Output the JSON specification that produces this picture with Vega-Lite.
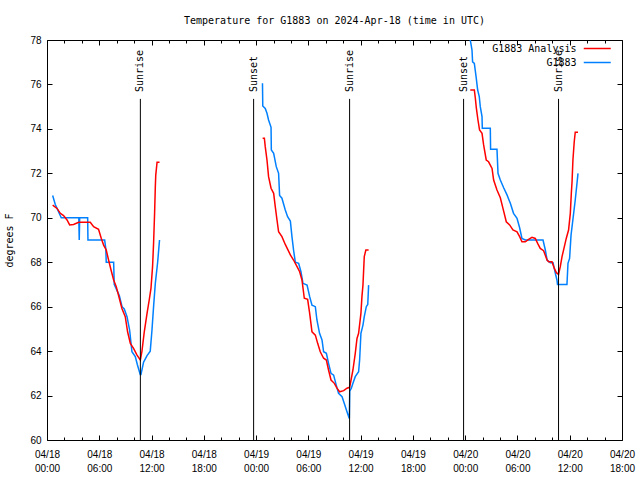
{
"$schema": "https://vega.github.io/schema/vega-lite/v6.json",
"width": 575, "height": 400,
"autosize": {"type": "none"},
"padding": {"left": 47, "top": 40, "right": 18, "bottom": 40},
"background": "white",
"title": {"text": "Temperature for G1883 on 2024-Apr-18 (time in UTC)", "font": "DejaVu Sans Mono", "fontSize": 10, "fontWeight": "normal", "color": "black", "anchor": "middle", "offset": 9},
"config": {"view": {"stroke": "black", "strokeWidth": 1}, "axis": {"grid": false, "domainColor": "black", "tickColor": "black", "labelColor": "black", "titleColor": "black"}},
"datasets": {
"events": [
{"t": "2024-04-18T10:43Z", "label": "Sunrise"},
{"t": "2024-04-18T23:43Z", "label": "Sunset"},
{"t": "2024-04-19T10:44Z", "label": "Sunrise"},
{"t": "2024-04-19T23:49Z", "label": "Sunset"},
{"t": "2024-04-20T10:43Z", "label": "Sunrise"}
],
"temps": [
{"t":"2024-04-18T00:39Z","v":71.0,"s":"G1883","g":"b1"},
{"t":"2024-04-18T00:57Z","v":70.6,"s":"G1883","g":"b1"},
{"t":"2024-04-18T01:18Z","v":70.3,"s":"G1883","g":"b1"},
{"t":"2024-04-18T01:38Z","v":70.0,"s":"G1883","g":"b1"},
{"t":"2024-04-18T03:39Z","v":70.0,"s":"G1883","g":"b1"},
{"t":"2024-04-18T03:42Z","v":69.0,"s":"G1883","g":"b1"},
{"t":"2024-04-18T03:45Z","v":70.0,"s":"G1883","g":"b1"},
{"t":"2024-04-18T04:40Z","v":70.0,"s":"G1883","g":"b1"},
{"t":"2024-04-18T04:42Z","v":69.0,"s":"G1883","g":"b1"},
{"t":"2024-04-18T06:37Z","v":69.0,"s":"G1883","g":"b1"},
{"t":"2024-04-18T06:45Z","v":68.6,"s":"G1883","g":"b1"},
{"t":"2024-04-18T06:48Z","v":68.0,"s":"G1883","g":"b1"},
{"t":"2024-04-18T07:39Z","v":68.0,"s":"G1883","g":"b1"},
{"t":"2024-04-18T07:43Z","v":67.0,"s":"G1883","g":"b1"},
{"t":"2024-04-18T08:04Z","v":66.7,"s":"G1883","g":"b1"},
{"t":"2024-04-18T08:18Z","v":66.5,"s":"G1883","g":"b1"},
{"t":"2024-04-18T08:37Z","v":66.0,"s":"G1883","g":"b1"},
{"t":"2024-04-18T08:52Z","v":65.9,"s":"G1883","g":"b1"},
{"t":"2024-04-18T09:11Z","v":65.55,"s":"G1883","g":"b1"},
{"t":"2024-04-18T09:29Z","v":64.95,"s":"G1883","g":"b1"},
{"t":"2024-04-18T09:45Z","v":63.97,"s":"G1883","g":"b1"},
{"t":"2024-04-18T10:08Z","v":63.75,"s":"G1883","g":"b1"},
{"t":"2024-04-18T10:22Z","v":63.4,"s":"G1883","g":"b1"},
{"t":"2024-04-18T10:42Z","v":62.95,"s":"G1883","g":"b1"},
{"t":"2024-04-18T10:47Z","v":62.95,"s":"G1883","g":"b1"},
{"t":"2024-04-18T11:05Z","v":63.5,"s":"G1883","g":"b1"},
{"t":"2024-04-18T11:29Z","v":63.8,"s":"G1883","g":"b1"},
{"t":"2024-04-18T11:51Z","v":64.0,"s":"G1883","g":"b1"},
{"t":"2024-04-18T12:03Z","v":64.95,"s":"G1883","g":"b1"},
{"t":"2024-04-18T12:14Z","v":66.0,"s":"G1883","g":"b1"},
{"t":"2024-04-18T12:26Z","v":67.05,"s":"G1883","g":"b1"},
{"t":"2024-04-18T12:42Z","v":68.0,"s":"G1883","g":"b1"},
{"t":"2024-04-18T12:55Z","v":69.0,"s":"G1883","g":"b1"},
{"t":"2024-04-18T00:39Z","v":70.57,"s":"G1883 Analysis","g":"r1"},
{"t":"2024-04-18T01:09Z","v":70.42,"s":"G1883 Analysis","g":"r1"},
{"t":"2024-04-18T01:32Z","v":70.2,"s":"G1883 Analysis","g":"r1"},
{"t":"2024-04-18T01:54Z","v":70.1,"s":"G1883 Analysis","g":"r1"},
{"t":"2024-04-18T02:18Z","v":69.9,"s":"G1883 Analysis","g":"r1"},
{"t":"2024-04-18T02:36Z","v":69.68,"s":"G1883 Analysis","g":"r1"},
{"t":"2024-04-18T03:03Z","v":69.7,"s":"G1883 Analysis","g":"r1"},
{"t":"2024-04-18T03:38Z","v":69.8,"s":"G1883 Analysis","g":"r1"},
{"t":"2024-04-18T04:58Z","v":69.8,"s":"G1883 Analysis","g":"r1"},
{"t":"2024-04-18T05:21Z","v":69.6,"s":"G1883 Analysis","g":"r1"},
{"t":"2024-04-18T05:55Z","v":69.48,"s":"G1883 Analysis","g":"r1"},
{"t":"2024-04-18T06:14Z","v":69.07,"s":"G1883 Analysis","g":"r1"},
{"t":"2024-04-18T06:30Z","v":68.77,"s":"G1883 Analysis","g":"r1"},
{"t":"2024-04-18T06:48Z","v":68.55,"s":"G1883 Analysis","g":"r1"},
{"t":"2024-04-18T07:04Z","v":68.1,"s":"G1883 Analysis","g":"r1"},
{"t":"2024-04-18T07:21Z","v":67.65,"s":"G1883 Analysis","g":"r1"},
{"t":"2024-04-18T07:39Z","v":67.2,"s":"G1883 Analysis","g":"r1"},
{"t":"2024-04-18T07:57Z","v":66.9,"s":"G1883 Analysis","g":"r1"},
{"t":"2024-04-18T08:13Z","v":66.5,"s":"G1883 Analysis","g":"r1"},
{"t":"2024-04-18T08:36Z","v":65.92,"s":"G1883 Analysis","g":"r1"},
{"t":"2024-04-18T08:59Z","v":65.55,"s":"G1883 Analysis","g":"r1"},
{"t":"2024-04-18T09:15Z","v":64.87,"s":"G1883 Analysis","g":"r1"},
{"t":"2024-04-18T09:34Z","v":64.35,"s":"G1883 Analysis","g":"r1"},
{"t":"2024-04-18T09:56Z","v":64.12,"s":"G1883 Analysis","g":"r1"},
{"t":"2024-04-18T10:20Z","v":63.82,"s":"G1883 Analysis","g":"r1"},
{"t":"2024-04-18T10:43Z","v":63.6,"s":"G1883 Analysis","g":"r1"},
{"t":"2024-04-18T10:54Z","v":64.0,"s":"G1883 Analysis","g":"r1"},
{"t":"2024-04-18T11:10Z","v":64.87,"s":"G1883 Analysis","g":"r1"},
{"t":"2024-04-18T11:29Z","v":65.7,"s":"G1883 Analysis","g":"r1"},
{"t":"2024-04-18T11:44Z","v":66.3,"s":"G1883 Analysis","g":"r1"},
{"t":"2024-04-18T11:56Z","v":66.82,"s":"G1883 Analysis","g":"r1"},
{"t":"2024-04-18T12:07Z","v":67.8,"s":"G1883 Analysis","g":"r1"},
{"t":"2024-04-18T12:14Z","v":68.85,"s":"G1883 Analysis","g":"r1"},
{"t":"2024-04-18T12:21Z","v":70.2,"s":"G1883 Analysis","g":"r1"},
{"t":"2024-04-18T12:26Z","v":71.4,"s":"G1883 Analysis","g":"r1"},
{"t":"2024-04-18T12:29Z","v":71.92,"s":"G1883 Analysis","g":"r1"},
{"t":"2024-04-18T12:38Z","v":72.5,"s":"G1883 Analysis","g":"r1"},
{"t":"2024-04-18T12:55Z","v":72.5,"s":"G1883 Analysis","g":"r1"},
{"t":"2024-04-19T00:44Z","v":76.05,"s":"G1883","g":"b2"},
{"t":"2024-04-19T00:46Z","v":75.03,"s":"G1883","g":"b2"},
{"t":"2024-04-19T01:03Z","v":74.92,"s":"G1883","g":"b2"},
{"t":"2024-04-19T01:15Z","v":74.7,"s":"G1883","g":"b2"},
{"t":"2024-04-19T01:26Z","v":74.4,"s":"G1883","g":"b2"},
{"t":"2024-04-19T01:43Z","v":74.07,"s":"G1883","g":"b2"},
{"t":"2024-04-19T01:45Z","v":73.05,"s":"G1883","g":"b2"},
{"t":"2024-04-19T02:01Z","v":72.9,"s":"G1883","g":"b2"},
{"t":"2024-04-19T02:19Z","v":72.3,"s":"G1883","g":"b2"},
{"t":"2024-04-19T02:35Z","v":72.0,"s":"G1883","g":"b2"},
{"t":"2024-04-19T02:42Z","v":71.0,"s":"G1883","g":"b2"},
{"t":"2024-04-19T02:58Z","v":70.88,"s":"G1883","g":"b2"},
{"t":"2024-04-19T03:21Z","v":70.35,"s":"G1883","g":"b2"},
{"t":"2024-04-19T03:37Z","v":70.05,"s":"G1883","g":"b2"},
{"t":"2024-04-19T03:56Z","v":69.85,"s":"G1883","g":"b2"},
{"t":"2024-04-19T04:07Z","v":69.15,"s":"G1883","g":"b2"},
{"t":"2024-04-19T04:18Z","v":68.55,"s":"G1883","g":"b2"},
{"t":"2024-04-19T04:30Z","v":68.0,"s":"G1883","g":"b2"},
{"t":"2024-04-19T04:53Z","v":67.95,"s":"G1883","g":"b2"},
{"t":"2024-04-19T05:09Z","v":67.57,"s":"G1883","g":"b2"},
{"t":"2024-04-19T05:23Z","v":67.05,"s":"G1883","g":"b2"},
{"t":"2024-04-19T05:51Z","v":66.97,"s":"G1883","g":"b2"},
{"t":"2024-04-19T06:09Z","v":66.45,"s":"G1883","g":"b2"},
{"t":"2024-04-19T06:25Z","v":66.07,"s":"G1883","g":"b2"},
{"t":"2024-04-19T06:48Z","v":66.0,"s":"G1883","g":"b2"},
{"t":"2024-04-19T06:59Z","v":65.4,"s":"G1883","g":"b2"},
{"t":"2024-04-19T07:17Z","v":64.8,"s":"G1883","g":"b2"},
{"t":"2024-04-19T07:34Z","v":64.5,"s":"G1883","g":"b2"},
{"t":"2024-04-19T07:45Z","v":63.97,"s":"G1883","g":"b2"},
{"t":"2024-04-19T08:04Z","v":63.9,"s":"G1883","g":"b2"},
{"t":"2024-04-19T08:19Z","v":63.45,"s":"G1883","g":"b2"},
{"t":"2024-04-19T08:36Z","v":63.0,"s":"G1883","g":"b2"},
{"t":"2024-04-19T08:54Z","v":62.92,"s":"G1883","g":"b2"},
{"t":"2024-04-19T09:12Z","v":62.47,"s":"G1883","g":"b2"},
{"t":"2024-04-19T09:28Z","v":62.1,"s":"G1883","g":"b2"},
{"t":"2024-04-19T09:52Z","v":61.95,"s":"G1883","g":"b2"},
{"t":"2024-04-19T10:07Z","v":61.65,"s":"G1883","g":"b2"},
{"t":"2024-04-19T10:26Z","v":61.27,"s":"G1883","g":"b2"},
{"t":"2024-04-19T10:42Z","v":60.97,"s":"G1883","g":"b2"},
{"t":"2024-04-19T10:45Z","v":62.2,"s":"G1883","g":"b2"},
{"t":"2024-04-19T10:56Z","v":62.33,"s":"G1883","g":"b2"},
{"t":"2024-04-19T11:07Z","v":62.55,"s":"G1883","g":"b2"},
{"t":"2024-04-19T11:23Z","v":62.85,"s":"G1883","g":"b2"},
{"t":"2024-04-19T11:46Z","v":63.07,"s":"G1883","g":"b2"},
{"t":"2024-04-19T11:53Z","v":63.6,"s":"G1883","g":"b2"},
{"t":"2024-04-19T12:02Z","v":64.8,"s":"G1883","g":"b2"},
{"t":"2024-04-19T12:16Z","v":65.17,"s":"G1883","g":"b2"},
{"t":"2024-04-19T12:25Z","v":65.55,"s":"G1883","g":"b2"},
{"t":"2024-04-19T12:39Z","v":66.0,"s":"G1883","g":"b2"},
{"t":"2024-04-19T12:49Z","v":66.1,"s":"G1883","g":"b2"},
{"t":"2024-04-19T12:55Z","v":66.97,"s":"G1883","g":"b2"},
{"t":"2024-04-19T00:45Z","v":73.58,"s":"G1883 Analysis","g":"r2"},
{"t":"2024-04-19T00:57Z","v":73.58,"s":"G1883 Analysis","g":"r2"},
{"t":"2024-04-19T01:03Z","v":73.2,"s":"G1883 Analysis","g":"r2"},
{"t":"2024-04-19T01:15Z","v":72.6,"s":"G1883 Analysis","g":"r2"},
{"t":"2024-04-19T01:26Z","v":71.85,"s":"G1883 Analysis","g":"r2"},
{"t":"2024-04-19T01:43Z","v":71.33,"s":"G1883 Analysis","g":"r2"},
{"t":"2024-04-19T02:01Z","v":71.1,"s":"G1883 Analysis","g":"r2"},
{"t":"2024-04-19T02:12Z","v":70.5,"s":"G1883 Analysis","g":"r2"},
{"t":"2024-04-19T02:24Z","v":69.9,"s":"G1883 Analysis","g":"r2"},
{"t":"2024-04-19T02:35Z","v":69.37,"s":"G1883 Analysis","g":"r2"},
{"t":"2024-04-19T02:58Z","v":69.15,"s":"G1883 Analysis","g":"r2"},
{"t":"2024-04-19T03:21Z","v":68.8,"s":"G1883 Analysis","g":"r2"},
{"t":"2024-04-19T03:56Z","v":68.33,"s":"G1883 Analysis","g":"r2"},
{"t":"2024-04-19T04:18Z","v":68.1,"s":"G1883 Analysis","g":"r2"},
{"t":"2024-04-19T04:42Z","v":67.8,"s":"G1883 Analysis","g":"r2"},
{"t":"2024-04-19T05:00Z","v":67.57,"s":"G1883 Analysis","g":"r2"},
{"t":"2024-04-19T05:16Z","v":67.2,"s":"G1883 Analysis","g":"r2"},
{"t":"2024-04-19T05:32Z","v":66.38,"s":"G1883 Analysis","g":"r2"},
{"t":"2024-04-19T05:55Z","v":66.33,"s":"G1883 Analysis","g":"r2"},
{"t":"2024-04-19T06:09Z","v":65.7,"s":"G1883 Analysis","g":"r2"},
{"t":"2024-04-19T06:25Z","v":64.87,"s":"G1883 Analysis","g":"r2"},
{"t":"2024-04-19T06:48Z","v":64.72,"s":"G1883 Analysis","g":"r2"},
{"t":"2024-04-19T07:04Z","v":64.35,"s":"G1883 Analysis","g":"r2"},
{"t":"2024-04-19T07:22Z","v":63.97,"s":"G1883 Analysis","g":"r2"},
{"t":"2024-04-19T07:45Z","v":63.68,"s":"G1883 Analysis","g":"r2"},
{"t":"2024-04-19T08:04Z","v":63.6,"s":"G1883 Analysis","g":"r2"},
{"t":"2024-04-19T08:19Z","v":63.15,"s":"G1883 Analysis","g":"r2"},
{"t":"2024-04-19T08:36Z","v":62.7,"s":"G1883 Analysis","g":"r2"},
{"t":"2024-04-19T08:59Z","v":62.55,"s":"G1883 Analysis","g":"r2"},
{"t":"2024-04-19T09:17Z","v":62.33,"s":"G1883 Analysis","g":"r2"},
{"t":"2024-04-19T09:35Z","v":62.17,"s":"G1883 Analysis","g":"r2"},
{"t":"2024-04-19T10:03Z","v":62.22,"s":"G1883 Analysis","g":"r2"},
{"t":"2024-04-19T10:26Z","v":62.33,"s":"G1883 Analysis","g":"r2"},
{"t":"2024-04-19T10:44Z","v":62.37,"s":"G1883 Analysis","g":"r2"},
{"t":"2024-04-19T10:54Z","v":62.7,"s":"G1883 Analysis","g":"r2"},
{"t":"2024-04-19T11:07Z","v":63.15,"s":"G1883 Analysis","g":"r2"},
{"t":"2024-04-19T11:23Z","v":63.9,"s":"G1883 Analysis","g":"r2"},
{"t":"2024-04-19T11:35Z","v":64.57,"s":"G1883 Analysis","g":"r2"},
{"t":"2024-04-19T11:46Z","v":64.8,"s":"G1883 Analysis","g":"r2"},
{"t":"2024-04-19T12:02Z","v":65.7,"s":"G1883 Analysis","g":"r2"},
{"t":"2024-04-19T12:09Z","v":66.45,"s":"G1883 Analysis","g":"r2"},
{"t":"2024-04-19T12:16Z","v":66.97,"s":"G1883 Analysis","g":"r2"},
{"t":"2024-04-19T12:25Z","v":68.25,"s":"G1883 Analysis","g":"r2"},
{"t":"2024-04-19T12:36Z","v":68.55,"s":"G1883 Analysis","g":"r2"},
{"t":"2024-04-19T12:55Z","v":68.55,"s":"G1883 Analysis","g":"r2"},
{"t":"2024-04-20T00:25Z","v":78.6,"s":"G1883","g":"b3"},
{"t":"2024-04-20T00:35Z","v":78.0,"s":"G1883","g":"b3"},
{"t":"2024-04-20T00:47Z","v":77.55,"s":"G1883","g":"b3"},
{"t":"2024-04-20T00:51Z","v":77.02,"s":"G1883","g":"b3"},
{"t":"2024-04-20T01:03Z","v":76.95,"s":"G1883","g":"b3"},
{"t":"2024-04-20T01:15Z","v":76.35,"s":"G1883","g":"b3"},
{"t":"2024-04-20T01:26Z","v":75.75,"s":"G1883","g":"b3"},
{"t":"2024-04-20T01:37Z","v":75.45,"s":"G1883","g":"b3"},
{"t":"2024-04-20T01:44Z","v":75.0,"s":"G1883","g":"b3"},
{"t":"2024-04-20T01:56Z","v":74.55,"s":"G1883","g":"b3"},
{"t":"2024-04-20T01:58Z","v":74.03,"s":"G1883","g":"b3"},
{"t":"2024-04-20T02:53Z","v":74.03,"s":"G1883","g":"b3"},
{"t":"2024-04-20T02:55Z","v":73.08,"s":"G1883","g":"b3"},
{"t":"2024-04-20T03:39Z","v":73.08,"s":"G1883","g":"b3"},
{"t":"2024-04-20T03:46Z","v":72.0,"s":"G1883","g":"b3"},
{"t":"2024-04-20T04:02Z","v":71.7,"s":"G1883","g":"b3"},
{"t":"2024-04-20T04:25Z","v":71.35,"s":"G1883","g":"b3"},
{"t":"2024-04-20T04:48Z","v":71.03,"s":"G1883","g":"b3"},
{"t":"2024-04-20T05:11Z","v":70.65,"s":"G1883","g":"b3"},
{"t":"2024-04-20T05:33Z","v":70.2,"s":"G1883","g":"b3"},
{"t":"2024-04-20T05:57Z","v":69.98,"s":"G1883","g":"b3"},
{"t":"2024-04-20T06:15Z","v":69.55,"s":"G1883","g":"b3"},
{"t":"2024-04-20T06:31Z","v":69.07,"s":"G1883","g":"b3"},
{"t":"2024-04-20T06:54Z","v":69.0,"s":"G1883","g":"b3"},
{"t":"2024-04-20T08:56Z","v":69.0,"s":"G1883","g":"b3"},
{"t":"2024-04-20T09:12Z","v":68.55,"s":"G1883","g":"b3"},
{"t":"2024-04-20T09:24Z","v":68.1,"s":"G1883","g":"b3"},
{"t":"2024-04-20T09:46Z","v":67.98,"s":"G1883","g":"b3"},
{"t":"2024-04-20T10:05Z","v":67.98,"s":"G1883","g":"b3"},
{"t":"2024-04-20T10:21Z","v":67.5,"s":"G1883","g":"b3"},
{"t":"2024-04-20T10:32Z","v":67.2,"s":"G1883","g":"b3"},
{"t":"2024-04-20T10:36Z","v":67.0,"s":"G1883","g":"b3"},
{"t":"2024-04-20T11:41Z","v":67.0,"s":"G1883","g":"b3"},
{"t":"2024-04-20T11:48Z","v":67.95,"s":"G1883","g":"b3"},
{"t":"2024-04-20T11:59Z","v":68.17,"s":"G1883","g":"b3"},
{"t":"2024-04-20T12:09Z","v":69.22,"s":"G1883","g":"b3"},
{"t":"2024-04-20T12:27Z","v":70.2,"s":"G1883","g":"b3"},
{"t":"2024-04-20T12:38Z","v":70.8,"s":"G1883","g":"b3"},
{"t":"2024-04-20T12:50Z","v":71.55,"s":"G1883","g":"b3"},
{"t":"2024-04-20T12:57Z","v":72.0,"s":"G1883","g":"b3"},
{"t":"2024-04-20T00:35Z","v":75.75,"s":"G1883 Analysis","g":"r3"},
{"t":"2024-04-20T01:03Z","v":75.75,"s":"G1883 Analysis","g":"r3"},
{"t":"2024-04-20T01:10Z","v":75.38,"s":"G1883 Analysis","g":"r3"},
{"t":"2024-04-20T01:17Z","v":74.93,"s":"G1883 Analysis","g":"r3"},
{"t":"2024-04-20T01:28Z","v":74.4,"s":"G1883 Analysis","g":"r3"},
{"t":"2024-04-20T01:39Z","v":73.95,"s":"G1883 Analysis","g":"r3"},
{"t":"2024-04-20T01:56Z","v":73.8,"s":"G1883 Analysis","g":"r3"},
{"t":"2024-04-20T02:07Z","v":73.28,"s":"G1883 Analysis","g":"r3"},
{"t":"2024-04-20T02:25Z","v":72.6,"s":"G1883 Analysis","g":"r3"},
{"t":"2024-04-20T02:41Z","v":72.52,"s":"G1883 Analysis","g":"r3"},
{"t":"2024-04-20T03:05Z","v":72.22,"s":"G1883 Analysis","g":"r3"},
{"t":"2024-04-20T03:16Z","v":71.7,"s":"G1883 Analysis","g":"r3"},
{"t":"2024-04-20T03:39Z","v":71.25,"s":"G1883 Analysis","g":"r3"},
{"t":"2024-04-20T04:02Z","v":70.9,"s":"G1883 Analysis","g":"r3"},
{"t":"2024-04-20T04:25Z","v":70.3,"s":"G1883 Analysis","g":"r3"},
{"t":"2024-04-20T04:43Z","v":69.82,"s":"G1883 Analysis","g":"r3"},
{"t":"2024-04-20T05:06Z","v":69.68,"s":"G1883 Analysis","g":"r3"},
{"t":"2024-04-20T05:29Z","v":69.45,"s":"G1883 Analysis","g":"r3"},
{"t":"2024-04-20T05:57Z","v":69.37,"s":"G1883 Analysis","g":"r3"},
{"t":"2024-04-20T06:15Z","v":69.15,"s":"G1883 Analysis","g":"r3"},
{"t":"2024-04-20T06:31Z","v":68.92,"s":"G1883 Analysis","g":"r3"},
{"t":"2024-04-20T06:54Z","v":68.92,"s":"G1883 Analysis","g":"r3"},
{"t":"2024-04-20T07:17Z","v":69.03,"s":"G1883 Analysis","g":"r3"},
{"t":"2024-04-20T07:40Z","v":69.12,"s":"G1883 Analysis","g":"r3"},
{"t":"2024-04-20T08:03Z","v":69.07,"s":"G1883 Analysis","g":"r3"},
{"t":"2024-04-20T08:19Z","v":68.85,"s":"G1883 Analysis","g":"r3"},
{"t":"2024-04-20T08:37Z","v":68.62,"s":"G1883 Analysis","g":"r3"},
{"t":"2024-04-20T09:00Z","v":68.52,"s":"G1883 Analysis","g":"r3"},
{"t":"2024-04-20T09:24Z","v":68.1,"s":"G1883 Analysis","g":"r3"},
{"t":"2024-04-20T09:35Z","v":68.02,"s":"G1883 Analysis","g":"r3"},
{"t":"2024-04-20T09:58Z","v":68.02,"s":"G1883 Analysis","g":"r3"},
{"t":"2024-04-20T10:14Z","v":67.72,"s":"G1883 Analysis","g":"r3"},
{"t":"2024-04-20T10:28Z","v":67.53,"s":"G1883 Analysis","g":"r3"},
{"t":"2024-04-20T10:43Z","v":67.45,"s":"G1883 Analysis","g":"r3"},
{"t":"2024-04-20T10:55Z","v":67.8,"s":"G1883 Analysis","g":"r3"},
{"t":"2024-04-20T11:07Z","v":68.25,"s":"G1883 Analysis","g":"r3"},
{"t":"2024-04-20T11:23Z","v":68.7,"s":"G1883 Analysis","g":"r3"},
{"t":"2024-04-20T11:36Z","v":69.07,"s":"G1883 Analysis","g":"r3"},
{"t":"2024-04-20T11:52Z","v":69.45,"s":"G1883 Analysis","g":"r3"},
{"t":"2024-04-20T12:04Z","v":70.2,"s":"G1883 Analysis","g":"r3"},
{"t":"2024-04-20T12:11Z","v":71.1,"s":"G1883 Analysis","g":"r3"},
{"t":"2024-04-20T12:16Z","v":71.62,"s":"G1883 Analysis","g":"r3"},
{"t":"2024-04-20T12:22Z","v":72.6,"s":"G1883 Analysis","g":"r3"},
{"t":"2024-04-20T12:31Z","v":73.42,"s":"G1883 Analysis","g":"r3"},
{"t":"2024-04-20T12:38Z","v":73.85,"s":"G1883 Analysis","g":"r3"},
{"t":"2024-04-20T12:57Z","v":73.85,"s":"G1883 Analysis","g":"r3"}
]
},
"layer": [
{
"data": {"name": "temps"},
"mark": {"type": "line", "clip": true, "strokeWidth": 1.5},
"encoding": {
"x": {"field": "t", "type": "temporal",
 "scale": {"type": "utc", "domain": [1713398400000, 1713636000000], "nice": false},
 "axis": {"orient": "bottom", "title": null, "domain": false,
  "values": [1713398400000,1713405600000,1713412800000,1713420000000,1713427200000,1713434400000,1713441600000,1713448800000,1713456000000,1713463200000,1713470400000,1713477600000,1713484800000,1713492000000,1713499200000,1713506400000,1713513600000,1713520800000,1713528000000,1713535200000,1713542400000,1713549600000,1713556800000,1713564000000,1713571200000,1713578400000,1713585600000,1713592800000,1713600000000,1713607200000,1713614400000,1713621600000,1713628800000,1713636000000],
  "labelExpr": "utchours(datum.value) % 6 == 0 ? [utcFormat(datum.value, '%m/%d'), utcFormat(datum.value, '%H:%M')] : ''",
  "tickSize": {"condition": {"test": "utchours(datum.value) % 6 == 0", "value": -5}, "value": -3},
  "labelFont": "Liberation Sans", "labelFontSize": 10, "labelLineHeight": 14, "labelPadding": 14,
  "labelOverlap": false, "labelFlush": false, "labelBound": false}},
"y": {"field": "v", "type": "quantitative",
 "scale": {"domain": [60, 78], "nice": false, "zero": false},
 "axis": {"orient": "left", "values": [60,62,64,66,68,70,72,74,76,78], "tickSize": -5, "domain": false,
  "labelFont": "Liberation Sans", "labelFontSize": 10, "labelPadding": 11,
  "title": "degrees F", "titleFont": "DejaVu Sans Mono", "titleFontSize": 10, "titleFontWeight": "normal", "titlePadding": 15}},
"color": {"field": "s", "type": "nominal",
 "scale": {"domain": ["G1883 Analysis", "G1883"], "range": ["#ff0000", "#0080ff"]},
 "legend": {"orient": "none", "legendX": 542.75, "legendY": 1, "title": null, "padding": 0,
  "symbolType": "M-2,0H2", "symbolSize": 182.25, "symbolStrokeWidth": 1.5, "rowPadding": 1,
  "labelAlign": "right", "labelOffset": -28.25, "labelFont": "DejaVu Sans Mono", "labelFontSize": 10, "labelColor": "black"}},
"detail": {"field": "g"}
}
},
{
"data": {"name": "events"},
"mark": {"type": "rule", "color": "black", "strokeWidth": 1},
"encoding": {
"x": {"field": "t", "type": "temporal",
 "scale": {"type": "utc", "domain": [1713398400000, 1713636000000], "nice": false},
 "axis": {"orient": "top", "title": null, "labels": false, "domain": false,
  "values": [1713398400000,1713405600000,1713412800000,1713420000000,1713427200000,1713434400000,1713441600000,1713448800000,1713456000000,1713463200000,1713470400000,1713477600000,1713484800000,1713492000000,1713499200000,1713506400000,1713513600000,1713520800000,1713528000000,1713535200000,1713542400000,1713549600000,1713556800000,1713564000000,1713571200000,1713578400000,1713585600000,1713592800000,1713600000000,1713607200000,1713614400000,1713621600000,1713628800000,1713636000000],
  "tickSize": {"condition": {"test": "utchours(datum.value) % 6 == 0", "value": -5}, "value": -3}}},
"y": {"datum": 75.35, "type": "quantitative",
 "scale": {"domain": [60, 78], "nice": false, "zero": false},
 "axis": {"orient": "right", "title": null, "labels": false, "domain": false, "values": [60,62,64,66,68,70,72,74,76,78], "tickSize": -5}},
"y2": {"datum": 60}
}
},
{
"data": {"name": "events"},
"mark": {"type": "text", "angle": 270, "align": "left", "baseline": "middle", "font": "DejaVu Sans Mono", "fontSize": 10, "color": "black"},
"encoding": {
"x": {"field": "t", "type": "temporal", "axis": null},
"y": {"datum": 75.66, "type": "quantitative", "axis": null},
"text": {"field": "label"}
}
}
],
"resolve": {"axis": {"x": "independent", "y": "independent"}}
}
